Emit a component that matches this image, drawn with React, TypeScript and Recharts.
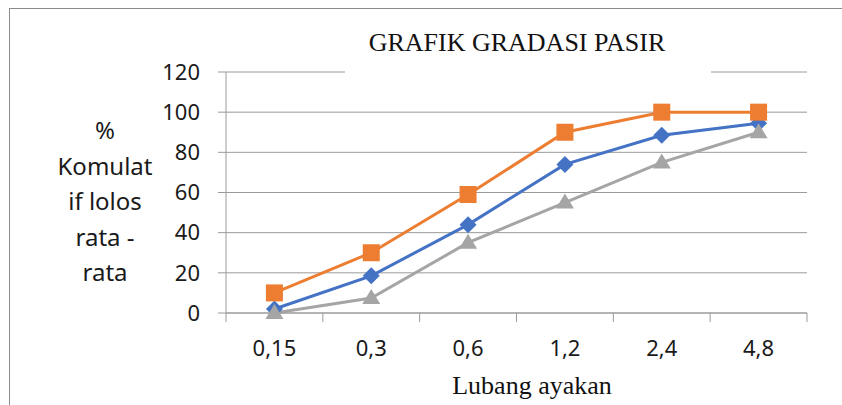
import { LineChart, Line, XAxis, YAxis, CartesianGrid } from 'recharts';

const categories = ['0,15', '0,3', '0,6', '1,2', '2,4', '4,8'];
const blueValues = [2, 18.5, 44, 74, 88.5, 94.5];
const orangeValues = [10, 30, 59, 90, 100, 100];
const grayValues = [0, 7.5, 35, 55, 75, 90];
const yTicks = [0, 20, 40, 60, 80, 100, 120];
const yLabelLines = ['%', 'Komulat', 'if lolos', 'rata -', 'rata'];
const titleText = 'GRAFIK GRADASI PASIR';
const xTitleText = 'Lubang ayakan';

const BLUE = '#4472C4';
const ORANGE = '#ED7D31';
const GRAY = '#A5A5A5';
const GRID = '#9a9a9a';
const SANS = '"Noto Sans", sans-serif';
const SERIF = '"Liberation Serif", "Times New Roman", serif';

// each category sits in the middle of its band, tick marks go on band edges
const data = categories.map((label, i) => ({
    pos: i + 0.5,
    label,
    blue: blueValues[i],
    orange: orangeValues[i],
    gray: grayValues[i],
}));
const xTicks = categories.flatMap((_, i) => [i, i + 0.5]).concat(categories.length);

const XTick = (props: any) => {
    const { x, y, payload } = props;
    const v = payload.value;
    if (Number.isInteger(v)) {
        return <line x1={x} x2={x} y1={y} y2={y + 9} stroke={GRID} strokeWidth={1} />;
    }
    return (
        <text x={x} y={y + 43} textAnchor="middle" fill="#1a1a1a" fontSize={22} fontFamily={SANS}>
            {categories[Math.floor(v)]}
        </text>
    );
};

const Diamond = (p: any) => {
    const { cx, cy, index } = p;
    const r = 8.5;
    return (
        <path key={`d${index}`} d={`M${cx},${cy - r}L${cx + r},${cy}L${cx},${cy + r}L${cx - r},${cy}Z`} fill={BLUE} />
    );
};

const Square = (p: any) => {
    const { cx, cy, index } = p;
    return <rect key={`s${index}`} x={cx - 8.5} y={cy - 8.5} width={17} height={17} fill={ORANGE} />;
};

const Triangle = (p: any) => {
    const { cx, cy, index } = p;
    return (
        <path key={`t${index}`} d={`M${cx},${cy - 9}L${cx + 9},${cy + 6}L${cx - 9},${cy + 6}Z`} fill={GRAY} />
    );
};

export default function App() {
    return (
        <div style={{ position: 'relative', width: 842, height: 405, overflow: 'hidden', background: '#fff' }}>
            <style>{'body{margin:0;overflow:hidden}'}</style>
            <div
                style={{
                    position: 'absolute', left: 9, top: 8, width: 900, height: 500,
                    borderLeft: '1px solid #8c8c8c', borderTop: '1px solid #8c8c8c',
                }}
            />
            <LineChart
                width={842}
                height={405}
                data={data}
                margin={{ top: 72, right: 35, left: 126, bottom: 32 }}
                style={{ position: 'absolute', left: 0, top: 0 }}
            >
                <CartesianGrid vertical={false} stroke={GRID} strokeWidth={1} />
                <XAxis
                    dataKey="pos"
                    type="number"
                    domain={[0, categories.length]}
                    ticks={xTicks}
                    interval={0}
                    tick={<XTick />}
                    tickLine={false}
                    tickSize={0}
                    tickMargin={0}
                    height={60}
                    axisLine={{ stroke: GRID }}
                />
                <YAxis
                    domain={[0, 120]}
                    ticks={yTicks}
                    interval={0}
                    width={100}
                    tickSize={8}
                    tickMargin={18}
                    tickLine={{ stroke: GRID }}
                    axisLine={{ stroke: GRID }}
                    tick={{ fill: '#1a1a1a', fontSize: 22, fontFamily: SANS }}
                />
                <Line type="linear" dataKey="blue" stroke={BLUE} strokeWidth={3} dot={Diamond} activeDot={false} isAnimationActive={false} />
                <Line type="linear" dataKey="orange" stroke={ORANGE} strokeWidth={3} dot={Square} activeDot={false} isAnimationActive={false} />
                <Line type="linear" dataKey="gray" stroke={GRAY} strokeWidth={3} dot={Triangle} activeDot={false} isAnimationActive={false} />
            </LineChart>
            <div style={{ position: 'absolute', left: 345, top: 60, width: 366, height: 15, background: '#fff' }} />
            <div
                style={{
                    position: 'absolute', left: 317, width: 400, top: 26, textAlign: 'center',
                    fontFamily: SERIF, fontSize: 26, lineHeight: '34px', color: '#111',
                }}
            >
                {titleText}
            </div>
            <div
                style={{
                    position: 'absolute', left: 332, width: 400, top: 369, textAlign: 'center',
                    fontFamily: SERIF, fontSize: 26, lineHeight: '34px', color: '#111',
                }}
            >
                {xTitleText}
            </div>
            <div
                style={{
                    position: 'absolute', left: 25, width: 160, top: 112, textAlign: 'center',
                    fontFamily: SANS, fontSize: 24, lineHeight: '35.5px', color: '#1a1a1a',
                }}
            >
                {yLabelLines.map((l) => (
                    <div key={l}>{l}</div>
                ))}
            </div>
        </div>
    );
}
